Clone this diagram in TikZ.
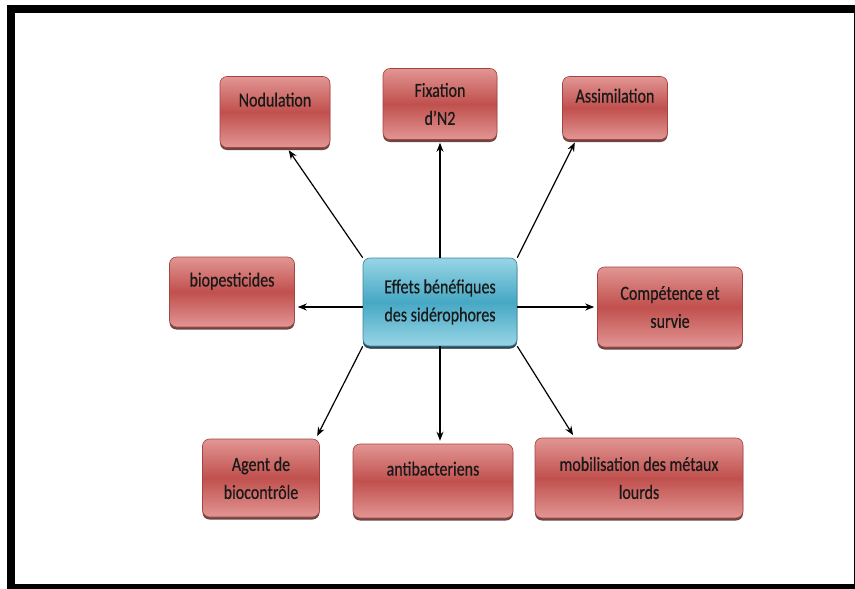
\documentclass[tikz,border=0pt]{standalone}
\usepackage{fontspec}
\setmainfont{Carlito}[FakeStretch=0.8, FakeBold=0.5]
\usetikzlibrary{arrows.meta}
\usetikzlibrary{shadows}
\definecolor{effetred}{RGB}{192,80,77}
\definecolor{effetpink}{RGB}{226,150,148}
\definecolor{effetblue}{RGB}{70,168,196}
\definecolor{effetsky}{RGB}{152,213,230}

\begin{document}
\begin{tikzpicture}[x=1pt, y=-1pt,
    every node/.style={font=\fontsize{20}{28}\selectfont, text=black!90, align=center, inner sep=0pt},
    effet/.style={rectangle, rounded corners=7pt, draw=effetred!85!black, line width=0.6pt,
      top color=effetpink, bottom color=effetpink, middle color=effetred,
      drop shadow={shadow xshift=0pt, shadow yshift=-2.5pt, fill=effetred!45!black, opacity=0.85}},
    centre/.style={effet, draw=effetblue!80!black,
      top color=effetsky, bottom color=effetsky, middle color=effetblue,
      drop shadow={shadow xshift=0pt, shadow yshift=-2.5pt, fill=effetblue!45!black, opacity=0.85}},
    seul/.style={text height=13pt, text depth=24pt},
    fleche/.style={-{Stealth[length=9pt,width=7pt]}, line width=1.2pt, shorten >=3pt}]
  \useasboundingbox (0,0) rectangle (855,589);
  % cadre
  \draw[line width=8pt] (11,589) -- (11,9) -- (855,9);
  \draw[line width=6pt] (7,587) -- (855,587);
  \draw[line width=1pt] (854.5,9) -- (854.5,589);

  \node[centre, minimum width=154pt, minimum height=88pt] (ctr) at (440,302) {Effets bénéfiques\\des sidérophores};

  \node[effet, seul, minimum width=110pt, minimum height=71pt] (nod) at (275,112) {Nodulation};
  \node[effet, minimum width=114pt, minimum height=71pt] (fix) at (440,104) {Fixation\\d’N2};
  \node[effet, seul, minimum width=105pt, minimum height=63pt] (asm) at (615,108) {Assimilation};
  \node[effet, seul, minimum width=125pt, minimum height=70pt] (bio) at (232,292) {biopesticides};
  \node[effet, minimum width=145pt, minimum height=80pt] (comp) at (670,307) {Compétence et\\survie};
  \node[effet, minimum width=117pt, minimum height=78pt] (agt) at (261,478) {Agent de\\biocontrôle};
  \node[effet, seul, minimum width=160pt, minimum height=74pt] (anti) at (433,481) {antibacteriens};
  \node[effet, minimum width=208pt, minimum height=80pt] (mob) at (639,478) {mobilisation des métaux\\lourds};

  % fleches
  \draw[fleche] (ctr.north west) -- ([xshift=12pt]nod.south);
  \draw[fleche] (ctr.north) -- (fix.south);
  \draw[fleche] (ctr.north east) -- ([xshift=14pt]asm.south west);
  \draw[fleche] ([yshift=-5pt]ctr.west) -- ([yshift=-5pt]ctr.west -| bio.east);
  \draw[fleche] ([yshift=-5pt]ctr.east) -- (comp.west);
  \draw[fleche] (ctr.south west) -- ([xshift=-4pt]agt.north east);
  \draw[fleche] (ctr.south) -- (ctr.south |- anti.north);
  \draw[fleche] (ctr.south east) -- ([xshift=40pt]mob.north west);
\end{tikzpicture}
\end{document}
